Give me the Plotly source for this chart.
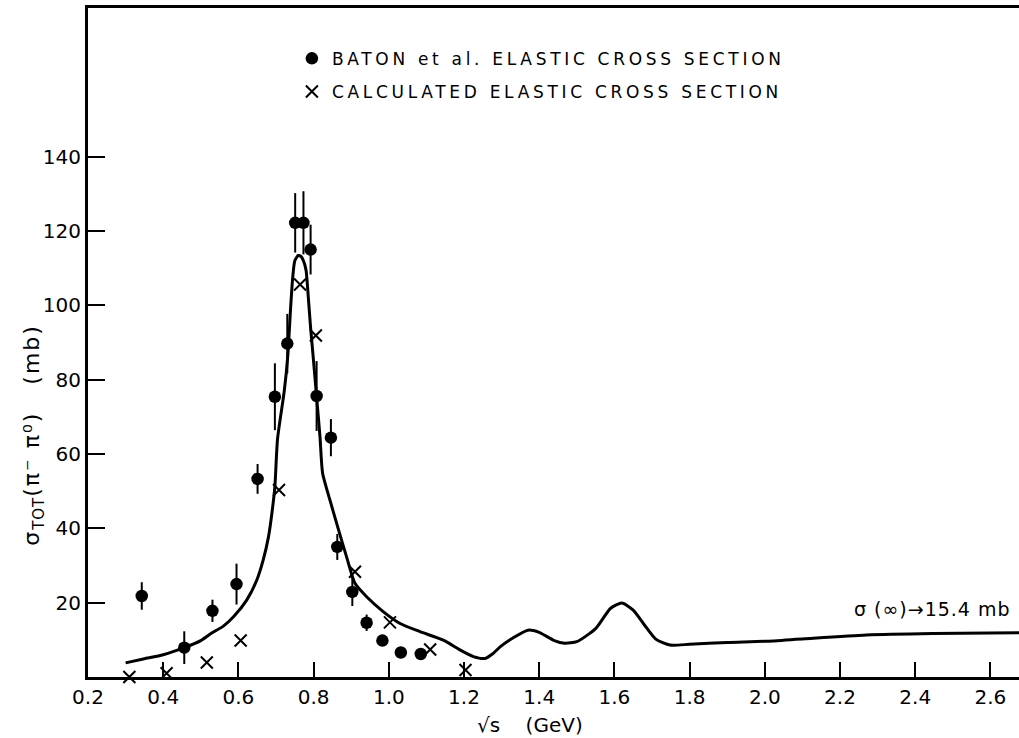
import plotly.graph_objects as go

# Experimental points (Baton et al.)
baton_x = [0.343, 0.456, 0.531, 0.595, 0.651, 0.697, 0.730, 0.751, 0.773, 0.792,
           0.808, 0.846, 0.863, 0.903, 0.941, 0.983, 1.032, 1.085]
baton_y = [21.8, 7.9, 17.8, 25.0, 53.3, 75.4, 89.7, 122.2, 122.2, 115.0,
           75.6, 64.4, 35.0, 22.9, 14.6, 9.8, 6.6, 6.2]
baton_err = [3.7, 4.4, 3.0, 5.5, 4.0, 9.0, 8.0, 8.0, 8.5, 6.7,
             9.4, 5.0, 3.5, 3.8, 2.2, 0.0, 0.0, 0.0]

# Calculated elastic cross section points
calc_x = [0.310, 0.409, 0.516, 0.606, 0.708, 0.764, 0.806, 0.910, 1.003, 1.110, 1.204]
calc_y = [0.0, 1.0, 3.9, 9.8, 50.3, 105.6, 91.9, 28.3, 14.7, 7.4, 1.9]

# Solid curve (total cross section)
curve_x = [0.30, 0.35, 0.40, 0.456, 0.50, 0.527, 0.56, 0.587, 0.622, 0.649,
           0.666, 0.680, 0.689, 0.697, 0.704, 0.722, 0.731, 0.739, 0.744, 0.750,
           0.759, 0.766, 0.773, 0.780, 0.786, 0.792, 0.799, 0.808, 0.817, 0.824,
           0.846, 0.864, 0.890, 0.910, 0.941, 0.985, 1.030, 1.083, 1.145, 1.189,
           1.225, 1.256, 1.278, 1.296, 1.33, 1.37, 1.40, 1.44, 1.468, 1.50,
           1.55, 1.59, 1.62, 1.65, 1.68, 1.71, 1.748, 1.80, 1.90, 2.00,
           2.106, 2.27, 2.447, 2.676]
curve_y = [3.8, 4.9, 6.0, 7.9, 9.8, 11.7, 13.7, 16.2, 20.7, 26.1,
           31.5, 37.7, 44.0, 51.2, 64.0, 77.0, 86.0, 99.5, 107.0, 112.0,
           113.4, 113.2, 112.0, 109.4, 102.0, 94.0, 86.0, 75.3, 64.6, 54.8,
           46.7, 40.4, 31.5, 25.2, 21.6, 17.6, 14.4, 12.2, 9.9, 7.3,
           5.5, 5.0, 6.4, 8.1, 10.5, 12.6, 12.0, 9.8, 9.1, 9.5,
           13.0, 18.5, 19.9, 18.0, 14.0, 10.2, 8.6, 8.8, 9.3, 9.6,
           10.3, 11.3, 11.7, 11.9]

x_ticks = [0.2, 0.4, 0.6, 0.8, 1.0, 1.2, 1.4, 1.6, 1.8, 2.0, 2.2, 2.4, 2.6]
x_ticktext = ["0.2", "0.4", "0.6", "0.8", "1.0", "1.2", "1.4", "1.6", "1.8", "2.0", "2.2", "2.4", "2.6"]
y_ticks = [20, 40, 60, 80, 100, 120, 140]
y_ticktext = ["20", "40", "60", "80", "100", "120", "140"]

FONT = "DejaVu Sans"
LS = "letter-spacing:3.7px;font-size:17px"

fig = go.Figure()

fig.add_trace(go.Scatter(
    x=curve_x, y=curve_y, mode="lines", line=dict(color="black", width=3, shape="spline", smoothing=0.6),
    showlegend=False, hoverinfo="skip"))

fig.add_trace(go.Scatter(
    x=baton_x, y=baton_y, mode="markers",
    marker=dict(symbol="circle", size=12.5, color="black"),
    error_y=dict(type="data", array=baton_err, visible=True, color="black", thickness=2, width=0),
    name="<span style='%s'>BATON et al. ELASTIC CROSS SECTION</span>" % LS,
    legendgroup="a"))

fig.add_trace(go.Scatter(
    x=calc_x, y=calc_y, mode="markers", cliponaxis=False,
    marker=dict(symbol="x-thin", size=12, color="black", line=dict(color="black", width=2)),
    name="<span style='%s'>CALCULATED ELASTIC CROSS SECTION</span>" % LS,
    legendgroup="b"))

fig.add_annotation(
    x=0.9935, y=0.1016, xref="paper", yref="paper", xanchor="right", yanchor="middle",
    text="<span style='letter-spacing:1px;font-size:19px'>σ (∞)→15.4 mb</span>", showarrow=False,
    font=dict(family=FONT, size=19, color="black"))

fig.add_annotation(
    x=0.475, y=-0.072, xref="paper", yref="paper", xanchor="center", yanchor="middle",
    text="√s    (GeV)", showarrow=False, font=dict(family=FONT, size=20, color="black"))

fig.add_annotation(
    x=-0.058, y=0.362, xref="paper", yref="paper", xanchor="center", yanchor="middle",
    textangle=-90,
    text=("<span style='letter-spacing:2px;font-size:22px'>σ</span>"
          "<span style='letter-spacing:1px;font-size:15px;baseline-shift:-5px'>TOT</span>"
          "<span style='letter-spacing:2px;font-size:22px'>(π⁻ π⁰)   (mb)</span>"),
    showarrow=False,
    font=dict(family=FONT, size=22, color="black"))

fig.update_layout(
    width=1019, height=738,
    margin=dict(l=88, r=0, t=8, b=61),
    paper_bgcolor="white", plot_bgcolor="white",
    font=dict(family=FONT, color="black"),
    legend=dict(x=0.219, y=0.951, xanchor="left", yanchor="top",
                font=dict(family=FONT, size=17, color="black"),
                bgcolor="rgba(0,0,0,0)", tracegroupgap=8, traceorder="grouped"),
    xaxis=dict(range=[0.2, 2.676], tickmode="array", tickvals=x_ticks, ticktext=x_ticktext,
               ticks="inside", ticklen=15, tickwidth=2, tickcolor="black",
               showline=True, linewidth=3, linecolor="black", mirror=True,
               showgrid=False, zeroline=False,
               tickfont=dict(family=FONT, size=20, color="black")),
    yaxis=dict(range=[0, 180], tickmode="array", tickvals=y_ticks, ticktext=y_ticktext,
               ticks="inside", ticklen=17, tickwidth=2, tickcolor="black",
               showline=True, linewidth=3, linecolor="black",
               showgrid=False, zeroline=False,
               tickfont=dict(family=FONT, size=20, color="black")),
)

fig.write_html("out.html")
